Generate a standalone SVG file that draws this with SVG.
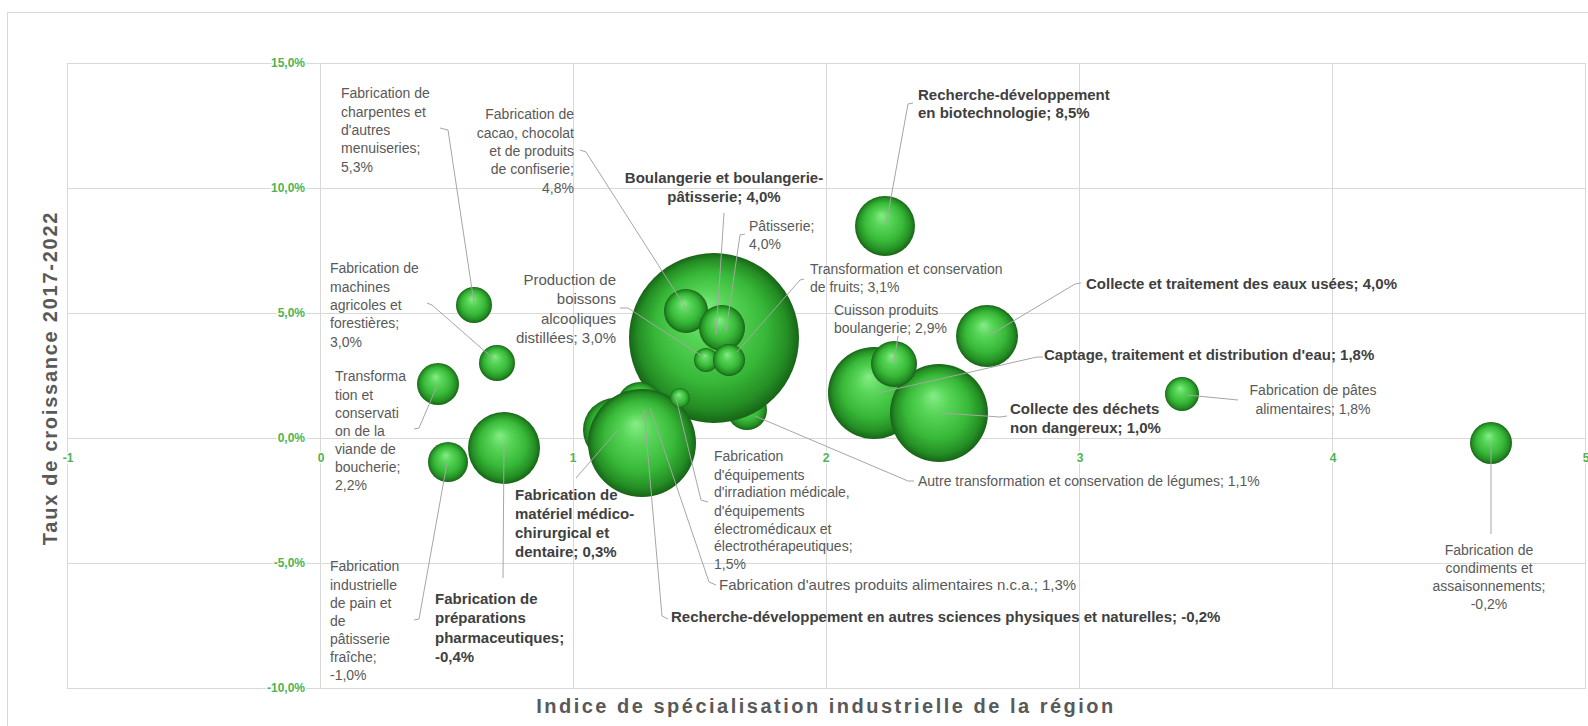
<svg xmlns="http://www.w3.org/2000/svg" width="1588" height="726" viewBox="0 0 1588 726">
<defs>
<radialGradient id="sph" cx="0.5" cy="0.5" r="0.5" fx="0.44" fy="0.32">
<stop offset="0" stop-color="#86ec86"/>
<stop offset="0.3" stop-color="#56d456"/>
<stop offset="0.65" stop-color="#38b838"/>
<stop offset="0.88" stop-color="#248e24"/>
<stop offset="1" stop-color="#176417"/>
</radialGradient>
<style>
.grid{stroke:#d9d9d9;stroke-width:1;fill:none}
.frame{stroke:#d9d9d9;stroke-width:1;fill:#fff}
.lead{stroke:#a6a6a6;stroke-width:1;fill:none}
.b{fill:url(#sph)}
text{font-family:"Liberation Sans",Arial,sans-serif}
.l{font-size:14px;fill:#595959}
.lb{font-size:15px;font-weight:bold;fill:#404040}
.ay{font-size:12px;font-weight:bold;fill:#4fb34f;text-anchor:end;stroke:#fff;stroke-width:3;paint-order:stroke}
.ax{font-size:12px;font-weight:bold;fill:#4fb34f;text-anchor:middle;stroke:#fff;stroke-width:3;paint-order:stroke}
.t{font-size:20px;font-weight:bold;fill:#595959;text-anchor:middle}
.e{text-anchor:end}
.m{text-anchor:middle}
</style>
</defs>
<rect x="0" y="0" width="1588" height="726" fill="#fff"/>
<rect class="frame" x="7.5" y="12.5" width="1600" height="730"/>
<g id="grid">
<path class="grid" d="M67,63.5H1586M67,188.5H1586M67,313.5H1586M67,438.5H1586M67,563.5H1586M67,688.5H1586"/>
<path class="grid" d="M67.5,63V688M320.5,63V688M573.5,63V688M826.5,63V688M1079.5,63V688M1332.5,63V688M1585.5,63V688"/>
</g>
<g id="axes">
<text class="ay" x="305" y="67">15,0%</text>
<text class="ay" x="305" y="192">10,0%</text>
<text class="ay" x="305" y="317">5,0%</text>
<text class="ay" x="305" y="442">0,0%</text>
<text class="ay" x="305" y="567">-5,0%</text>
<text class="ay" x="305" y="692">-10,0%</text>
<text class="ax" x="68" y="462">-1</text>
<text class="ax" x="321" y="462">0</text>
<text class="ax" x="573" y="462">1</text>
<text class="ax" x="826" y="462">2</text>
<text class="ax" x="1080" y="462">3</text>
<text class="ax" x="1333" y="462">4</text>
<text class="ax" x="1586" y="462">5</text>
<text class="t" x="826" y="713" letter-spacing="2.5">Indice de spécialisation industrielle de la région</text>
<text class="t" transform="translate(57,378) rotate(-90)" letter-spacing="1.75">Taux de croissance 2017-2022</text>
</g>
<g id="n-legumes"><circle class="b" cx="747" cy="410" r="20"/>
<text class="l" x="918" y="486">Autre transformation et conservation de légumes; 1,1%</text></g>
<g id="n-boulangerie"><circle class="b" cx="714" cy="338" r="85"/>
<text class="lb m" x="724" y="183">Boulangerie et boulangerie-</text>
<text class="lb m" x="724" y="202">pâtisserie; 4,0%</text></g>
<g id="n-cacao"><circle class="b" cx="686" cy="311" r="22"/>
<text class="l e" x="574" y="119">Fabrication de</text>
<text class="l e" x="574" y="137.5">cacao, chocolat</text>
<text class="l e" x="574" y="156">et de produits</text>
<text class="l e" x="574" y="174">de confiserie;</text>
<text class="l e" x="574" y="192.5">4,8%</text></g>
<g id="n-patisserie"><circle class="b" cx="722" cy="328" r="23"/>
<text class="l" x="749" y="231">Pâtisserie;</text>
<text class="l" x="749" y="249">4,0%</text></g>
<g id="n-boissons"><circle class="b" cx="706" cy="360" r="12"/>
<text class="l e" x="616" y="285" style="font-size:15px">Production de</text>
<text class="l e" x="616" y="304" style="font-size:15px">boissons</text>
<text class="l e" x="616" y="323.5" style="font-size:15px">alcooliques</text>
<text class="l e" x="616" y="343" style="font-size:15px">distillées; 3,0%</text></g>
<g id="n-fruits"><circle class="b" cx="729" cy="360" r="16"/>
<text class="l" x="810" y="274">Transformation et conservation</text>
<text class="l" x="810" y="292">de fruits; 3,1%</text></g>
<g id="n-autres-produits"><circle class="b" cx="640" cy="405" r="23"/>
<text class="l" x="719" y="590" style="font-size:15px">Fabrication d'autres produits alimentaires n.c.a.; 1,3%</text></g>
<g id="n-medico"><circle class="b" cx="615" cy="430" r="32"/>
<text class="lb" x="515" y="500">Fabrication de</text>
<text class="lb" x="515" y="519">matériel médico-</text>
<text class="lb" x="515" y="538">chirurgical et</text>
<text class="lb" x="515" y="557">dentaire; 0,3%</text></g>
<g id="n-rd-autres"><circle class="b" cx="642" cy="443" r="54"/>
<text class="lb" x="671" y="622">Recherche-développement en autres sciences physiques et naturelles; -0,2%</text></g>
<g id="n-irradiation"><circle class="b" cx="680" cy="398" r="10"/>
<text class="l" x="714" y="461">Fabrication</text>
<text class="l" x="714" y="479.5">d'équipements</text>
<text class="l" x="714" y="497">d'irradiation médicale,</text>
<text class="l" x="714" y="515.5">d'équipements</text>
<text class="l" x="714" y="533.5">électromédicaux et</text>
<text class="l" x="714" y="551">électrothérapeutiques;</text>
<text class="l" x="714" y="569">1,5%</text></g>
<g id="n-charpentes"><circle class="b" cx="474" cy="305" r="18"/>
<text class="l" x="341" y="98">Fabrication de</text>
<text class="l" x="341" y="116.5">charpentes et</text>
<text class="l" x="341" y="135">d'autres</text>
<text class="l" x="341" y="153">menuiseries;</text>
<text class="l" x="341" y="171.5">5,3%</text></g>
<g id="n-machines"><circle class="b" cx="497" cy="363" r="18"/>
<text class="l" x="330" y="273">Fabrication de</text>
<text class="l" x="330" y="291.5">machines</text>
<text class="l" x="330" y="310">agricoles et</text>
<text class="l" x="330" y="328">forestières;</text>
<text class="l" x="330" y="346.5">3,0%</text></g>
<g id="n-viande"><circle class="b" cx="438" cy="384" r="21"/>
<text class="l" x="335" y="381">Transforma</text>
<text class="l" x="335" y="399.5">tion et</text>
<text class="l" x="335" y="418">conservati</text>
<text class="l" x="335" y="436">on de la</text>
<text class="l" x="335" y="454">viande de</text>
<text class="l" x="335" y="472">boucherie;</text>
<text class="l" x="335" y="490">2,2%</text></g>
<g id="n-pain"><circle class="b" cx="448" cy="462" r="20"/>
<text class="l" x="330" y="571">Fabrication</text>
<text class="l" x="330" y="589.5">industrielle</text>
<text class="l" x="330" y="607.5">de pain et</text>
<text class="l" x="330" y="625.5">de</text>
<text class="l" x="330" y="643.5">pâtisserie</text>
<text class="l" x="330" y="661.5">fraîche;</text>
<text class="l" x="330" y="679.5">-1,0%</text></g>
<g id="n-pharma"><circle class="b" cx="504" cy="448" r="36"/>
<text class="lb" x="435" y="604">Fabrication de</text>
<text class="lb" x="435" y="623">préparations</text>
<text class="lb" x="435" y="642.5">pharmaceutiques;</text>
<text class="lb" x="435" y="662">-0,4%</text></g>
<g id="n-biotech"><circle class="b" cx="885" cy="226" r="30"/>
<text class="lb" x="918" y="99.5">Recherche-développement</text>
<text class="lb" x="918" y="118">en biotechnologie; 8,5%</text></g>
<g id="n-captage"><circle class="b" cx="874" cy="393" r="46"/>
<text class="lb" x="1044" y="360">Captage, traitement et distribution d'eau; 1,8%</text></g>
<g id="n-dechets"><circle class="b" cx="939" cy="413" r="49"/>
<text class="lb" x="1010" y="414">Collecte des déchets</text>
<text class="lb" x="1010" y="432.5">non dangereux; 1,0%</text></g>
<g id="n-cuisson"><circle class="b" cx="894" cy="364" r="23"/>
<text class="l" x="834" y="314.5">Cuisson produits</text>
<text class="l" x="834" y="332.5">boulangerie; 2,9%</text></g>
<g id="n-eaux-usees"><circle class="b" cx="987" cy="336" r="31"/>
<text class="lb" x="1086" y="289">Collecte et traitement des eaux usées; 4,0%</text></g>
<g id="n-pates"><circle class="b" cx="1182" cy="394" r="17"/>
<text class="l m" x="1313" y="395">Fabrication de pâtes</text>
<text class="l m" x="1313" y="414">alimentaires; 1,8%</text></g>
<g id="n-condiments"><circle class="b" cx="1491" cy="443" r="21"/>
<text class="l m" x="1489" y="554.5">Fabrication de</text>
<text class="l m" x="1489" y="573">condiments et</text>
<text class="l m" x="1489" y="590.5">assaisonnements;</text>
<text class="l m" x="1489" y="609">-0,2%</text></g>
<g id="connectors">
<path class="lead" d="M440,128L448,130L474,303"/>
<path class="lead" d="M580,150L586,152L687,310"/>
<path class="lead" d="M724,213L716,335"/>
<path class="lead" d="M745,234L740,235L726,331"/>
<path class="lead" d="M804,279L800,280L737,352"/>
<path class="lead" d="M620,308L628,308L708,360"/>
<path class="lead" d="M913,103L908,104L886,225"/>
<path class="lead" d="M898,336L894,362"/>
<path class="lead" d="M1081,283L1075,284L990,335"/>
<path class="lead" d="M1043,357L1037,357L878,393"/>
<path class="lead" d="M1007,416L1000,417L942,413"/>
<path class="lead" d="M1238,400L1187,395"/>
<path class="lead" d="M1491,534L1491,443"/>
<path class="lead" d="M914,481L908,481L755,416"/>
<path class="lead" d="M716,585L709,582L650,408"/>
<path class="lead" d="M708,502L701,500L675,394"/>
<path class="lead" d="M668,619L662,616L644,410"/>
<path class="lead" d="M576,478L617,431"/>
<path class="lead" d="M503,578L504,444"/>
<path class="lead" d="M414,620L419,619L447,463"/>
<path class="lead" d="M414,429L419,428L437,386"/>
<path class="lead" d="M427,303L432,305L496,361"/>
</g>
</svg>
